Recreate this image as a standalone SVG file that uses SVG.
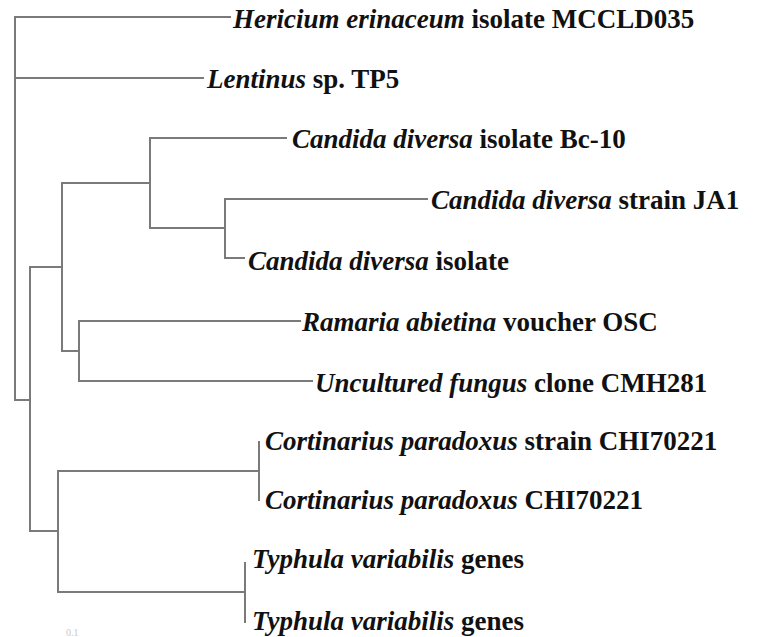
<svg xmlns="http://www.w3.org/2000/svg" width="781" height="637" viewBox="0 0 781 637">
<style>
.br{fill:none;stroke:#7a7a7a;stroke-width:2;stroke-linecap:square}
.lb{font-family:"Liberation Serif","Times New Roman",serif;font-size:27px;font-weight:bold;fill:#111}
.lb .sp{font-style:italic}
.sc{font-family:"Liberation Serif",serif;font-size:10px;fill:#c8c8c8}
</style>
<rect width="781" height="637" fill="#fff"/>
<g id="connectors">
<path class="br" d="M15,17 V400 M15,17 H230 M15,78 H203 M15,400 H30"/>
<path class="br" d="M30,267 V531 M30,267 H62 M30,531 H58"/>
<path class="br" d="M62,183 V351 M62,183 H150 M62,351 H79"/>
<path class="br" d="M150,138 V228 M150,138 H286 M150,228 H225"/>
<path class="br" d="M225,199 V258 M225,199 H427 M225,258 H244"/>
<path class="br" d="M79,321 V381 M79,321 H300 M79,381 H312"/>
<path class="br" d="M58,471 V592 M58,471 H259 M58,592 H245"/>
<path class="br" d="M259,442 V500 M245,563 V622"/>
</g>
<g id="n-hericium"><text class="lb" x="233" y="28"><tspan class="sp">Hericium erinaceum</tspan> isolate MCCLD035</text></g>
<g id="n-lentinus"><text class="lb" x="207" y="88"><tspan class="sp">Lentinus</tspan> sp. TP5</text></g>
<g id="n-candida-bc10"><text class="lb" x="292" y="148"><tspan class="sp">Candida diversa</tspan> isolate Bc-10</text></g>
<g id="n-candida-ja1"><text class="lb" x="431" y="209"><tspan class="sp">Candida diversa</tspan> strain JA1</text></g>
<g id="n-candida-isolate"><text class="lb" x="248" y="270"><tspan class="sp">Candida diversa</tspan> isolate</text></g>
<g id="n-ramaria"><text class="lb" x="302" y="331"><tspan class="sp">Ramaria abietina</tspan> voucher OSC</text></g>
<g id="n-uncultured"><text class="lb" x="315" y="392"><tspan class="sp">Uncultured fungus</tspan> clone CMH281</text></g>
<g id="n-cort1"><text class="lb" x="265" y="450"><tspan class="sp">Cortinarius paradoxus</tspan> strain CHI70221</text></g>
<g id="n-cort2"><text class="lb" x="265" y="509"><tspan class="sp">Cortinarius paradoxus</tspan> CHI70221</text></g>
<g id="n-typhula1"><text class="lb" x="252" y="568"><tspan class="sp">Typhula variabilis</tspan> genes</text></g>
<g id="n-typhula2"><text class="lb" x="252" y="630"><tspan class="sp">Typhula variabilis</tspan> genes</text></g>
<g id="scale"><text class="sc" x="66" y="636">0.1</text></g>
</svg>
